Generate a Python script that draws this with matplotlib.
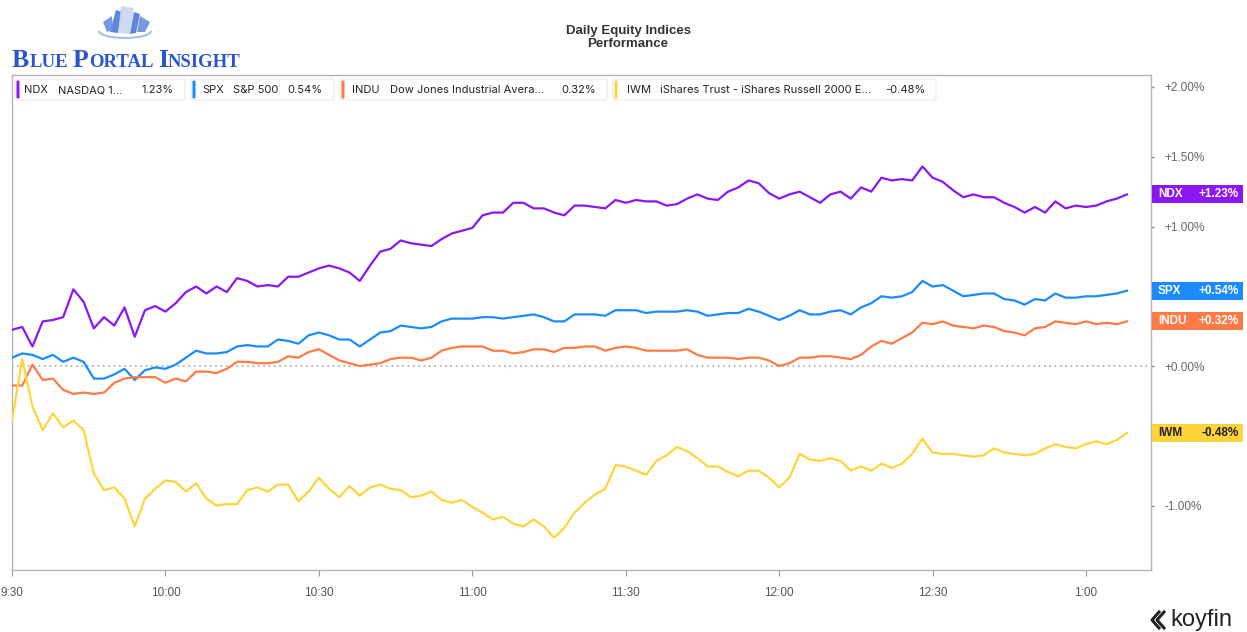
import numpy as np
import matplotlib
matplotlib.use('Agg')
import matplotlib.pyplot as plt
from matplotlib.patches import FancyBboxPatch, Rectangle, Polygon, Arc
from matplotlib.lines import Line2D
from matplotlib.transforms import blended_transform_factory

# minutes after 9:30, one sample every two minutes
minutes = np.arange(0, 220, 2)

ndx = [0.26, 0.28, 0.14, 0.32, 0.33, 0.35, 0.55, 0.46, 0.27, 0.35,
       0.29, 0.42, 0.21, 0.40, 0.43, 0.39, 0.45, 0.53, 0.57, 0.52,
       0.57, 0.53, 0.63, 0.61, 0.57, 0.58, 0.57, 0.64, 0.64, 0.67,
       0.70, 0.72, 0.70, 0.67, 0.61, 0.72, 0.82, 0.84, 0.90, 0.88,
       0.87, 0.86, 0.91, 0.95, 0.97, 0.99, 1.08, 1.10, 1.10, 1.17,
       1.17, 1.13, 1.13, 1.10, 1.08, 1.15, 1.15, 1.14, 1.13, 1.19,
       1.17, 1.19, 1.18, 1.18, 1.15, 1.16, 1.20, 1.23, 1.20, 1.19,
       1.25, 1.28, 1.33, 1.31, 1.24, 1.20, 1.23, 1.25, 1.21, 1.17,
       1.23, 1.25, 1.20, 1.28, 1.25, 1.35, 1.33, 1.34, 1.33, 1.43,
       1.35, 1.32, 1.26, 1.21, 1.23, 1.21, 1.21, 1.17, 1.14, 1.10,
       1.14, 1.10, 1.18, 1.13, 1.15, 1.14, 1.15, 1.18, 1.20, 1.23]

spx = [0.06, 0.09, 0.08, 0.05, 0.08, 0.03, 0.06, 0.03, -0.09, -0.09,
       -0.06, -0.02, -0.10, -0.03, -0.01, -0.02, 0.01, 0.06, 0.11, 0.09,
       0.09, 0.10, 0.14, 0.15, 0.14, 0.14, 0.19, 0.18, 0.16, 0.22,
       0.24, 0.22, 0.19, 0.19, 0.14, 0.19, 0.24, 0.25, 0.29, 0.28,
       0.27, 0.28, 0.32, 0.34, 0.34, 0.34, 0.35, 0.35, 0.34, 0.35,
       0.36, 0.37, 0.35, 0.32, 0.32, 0.37, 0.37, 0.37, 0.36, 0.40,
       0.40, 0.40, 0.38, 0.39, 0.39, 0.39, 0.40, 0.39, 0.36, 0.37,
       0.38, 0.38, 0.41, 0.39, 0.36, 0.33, 0.36, 0.40, 0.37, 0.37,
       0.39, 0.40, 0.37, 0.42, 0.45, 0.50, 0.49, 0.50, 0.53, 0.61,
       0.57, 0.58, 0.54, 0.50, 0.51, 0.52, 0.52, 0.48, 0.47, 0.44,
       0.48, 0.47, 0.52, 0.49, 0.49, 0.50, 0.50, 0.51, 0.52, 0.54]

indu = [-0.14, -0.14, 0.01, -0.10, -0.09, -0.17, -0.20, -0.19, -0.20, -0.19,
        -0.12, -0.09, -0.08, -0.08, -0.08, -0.12, -0.09, -0.11, -0.04, -0.04,
        -0.05, -0.02, 0.03, 0.03, 0.02, 0.02, 0.03, 0.07, 0.06, 0.10,
        0.12, 0.08, 0.04, 0.02, 0.00, 0.01, 0.02, 0.05, 0.06, 0.06,
        0.04, 0.06, 0.11, 0.13, 0.14, 0.14, 0.14, 0.11, 0.11, 0.09,
        0.10, 0.12, 0.12, 0.10, 0.13, 0.13, 0.14, 0.14, 0.11, 0.13,
        0.14, 0.13, 0.11, 0.11, 0.11, 0.11, 0.12, 0.08, 0.06, 0.06,
        0.06, 0.05, 0.06, 0.06, 0.04, 0.00, 0.02, 0.06, 0.06, 0.07,
        0.07, 0.06, 0.05, 0.08, 0.14, 0.18, 0.16, 0.20, 0.24, 0.31,
        0.30, 0.32, 0.29, 0.28, 0.27, 0.29, 0.28, 0.25, 0.24, 0.22,
        0.27, 0.28, 0.32, 0.31, 0.30, 0.32, 0.30, 0.31, 0.30, 0.32]

iwm = [-0.39, 0.05, -0.29, -0.46, -0.34, -0.44, -0.39, -0.46, -0.77, -0.89,
       -0.87, -0.95, -1.15, -0.95, -0.88, -0.82, -0.83, -0.90, -0.84, -0.95,
       -1.00, -0.99, -0.99, -0.89, -0.87, -0.90, -0.85, -0.85, -0.97, -0.90,
       -0.80, -0.88, -0.94, -0.86, -0.93, -0.87, -0.85, -0.88, -0.89, -0.94,
       -0.93, -0.90, -0.96, -0.98, -0.96, -1.01, -1.05, -1.10, -1.08, -1.13,
       -1.15, -1.10, -1.15, -1.23, -1.16, -1.05, -0.98, -0.92, -0.88, -0.71,
       -0.72, -0.75, -0.78, -0.68, -0.64, -0.58, -0.61, -0.66, -0.72, -0.72,
       -0.76, -0.79, -0.75, -0.75, -0.80, -0.87, -0.80, -0.63, -0.67, -0.68,
       -0.66, -0.68, -0.75, -0.72, -0.75, -0.70, -0.73, -0.70, -0.63, -0.52,
       -0.62, -0.63, -0.63, -0.64, -0.65, -0.64, -0.59, -0.62, -0.63, -0.64,
       -0.63, -0.59, -0.56, -0.58, -0.59, -0.56, -0.54, -0.56, -0.53, -0.48]

tickers = ['NDX', 'SPX', 'INDU', 'IWM']
names = ['NASDAQ 1...', 'S&P 500', 'Dow Jones Industrial Avera...',
         'iShares Trust - iShares Russell 2000 E...']
changes = [1.23, 0.54, 0.32, -0.48]
colors = ['#8a17f4', '#1a8cff', '#ff7a45', '#ffd43b']
series = [ndx, spx, indu, iwm]

tick_minutes = [0, 30, 60, 90, 120, 150, 180, 210]
tick_labels = ['9:30', '10:00', '10:30', '11:00', '11:30', '12:00', '12:30', '1:00']
y_ticks = [-1.0, -0.5, 0.0, 0.5, 1.0, 1.5, 2.0]
# the +/-0.50% labels sit under the SPX and IWM tags in the original
y_labels = ['-1.00%', '', '+0.00%', '', '+1.00%', '+1.50%', '+2.00%']

W, H = 1247, 632
fig = plt.figure(figsize=(W / 100, H / 100), dpi=100)
fig.patch.set_facecolor('white')

def fx(px):
    return px / W

def fy(py):
    return 1 - py / H

ax = fig.add_axes([fx(12), fy(570), fx(1151) - fx(12), fy(75) - fy(570)])
ax.set_xlim(0, 222.7)
ax.set_ylim(-1.462, 2.086)

for vals, c in zip(series, colors):
    ax.plot(minutes, vals, color=c, lw=1.6, solid_joinstyle='round', zorder=3)

ax.axhline(0, color='#9a9a9a', lw=1.1, ls=(0, (1, 2.5)), zorder=1)

for side in ['left', 'right', 'top', 'bottom']:
    ax.spines[side].set_color('#b5b5b5')
    ax.spines[side].set_linewidth(1.0)

narrow = ['Liberation Sans Narrow', 'Liberation Sans', 'DejaVu Sans']
ax.set_xticks(tick_minutes)
ax.set_xticklabels(tick_labels, fontsize=8.5, color='#555555', family=narrow)
ax.tick_params(axis='x', length=4, width=0.8, color='#999999', pad=8)

ax.yaxis.tick_right()
ax.set_yticks(y_ticks)
ax.set_yticklabels(y_labels, fontsize=8.5, color='#666666', family='Liberation Sans')
ax.tick_params(axis='y', length=2, width=1.0, color='#888888', pad=8)

# value tags on the right edge
blend = blended_transform_factory(fig.transFigure, ax.transData)
tag_h = 18 / 139.5
for tk, ch, c in zip(tickers, changes, colors):
    fig.add_artist(Rectangle((fx(1152), ch - tag_h / 2), fx(1243) - fx(1152), tag_h,
                             transform=blend, facecolor=c, edgecolor='none', zorder=5))
    tc = '#222222' if tk == 'IWM' else 'white'
    fig.text(fx(1158), ch, tk, transform=blend, ha='left', va='center', fontsize=8.5,
             fontweight='bold', color=tc, family='Liberation Sans', zorder=6)
    fig.text(fx(1239), ch, f'{ch:+.2f}%', transform=blend, ha='right', va='center',
             fontsize=8.5, fontweight='bold', color=tc, family='Liberation Sans', zorder=6)

# legend chips along the top
chips = [(15, 185, 24, 58), (191, 334, 202, 233),
         (340, 607, 352, 390), (613, 936, 627, 660)]
for (x0, x1, xt, xn), tk, nm, ch, c in zip(chips, tickers, names, changes, colors):
    fig.add_artist(FancyBboxPatch((fx(x0), fy(100)), fx(x1) - fx(x0), fy(79) - fy(100),
                                  boxstyle='round,pad=0,rounding_size=0.003',
                                  facecolor='white', edgecolor='#e8e8e8', lw=0.8, zorder=4))
    fig.add_artist(FancyBboxPatch((fx(x0 + 1.5), fy(98.5)), fx(3) - fx(0), fy(80.5) - fy(98.5),
                                  boxstyle='round,pad=0,rounding_size=0.0012',
                                  facecolor=c, edgecolor='none', zorder=5))
    fig.text(fx(xt), fy(90), tk, ha='left', va='center', fontsize=8.0,
             color='#222222', family='Inter', zorder=6)
    fig.text(fx(xn), fy(90), nm, ha='left', va='center', fontsize=8.0,
             color='#222222', family='Inter', zorder=6)
    fig.text(fx(x1 - 11), fy(90), f'{ch:.2f}%', ha='right', va='center', fontsize=8.0,
             color='#222222', family='Inter', zorder=6)

# title
fig.text(fx(628), fy(31), 'Daily Equity Indices', ha='center', va='center',
         fontsize=9.5, color='#333333', family='Liberation Sans', fontweight='bold')
fig.text(fx(628), fy(44), 'Performance', ha='center', va='center',
         fontsize=9.5, color='#333333', family='Liberation Sans', fontweight='bold')

# Blue Portal Insight logo
logo_blue = '#2b55d0'
r = fig.canvas.get_renderer()
x = fx(12)
for word in ['Blue', 'Portal', 'Insight']:
    t = fig.text(x, fy(67), word[0], fontsize=18.5, color=logo_blue, family='Liberation Serif',
                 fontweight='bold', va='baseline', ha='left')
    x += t.get_window_extent(renderer=r).width / W
    t = fig.text(x, fy(67), word[1:].upper(), fontsize=13.5, color=logo_blue,
                 family='Liberation Serif', fontweight='bold', va='baseline', ha='left')
    x += t.get_window_extent(renderer=r).width / W + fx(5)

light = '#a8bde8'
fig.add_artist(Arc((fx(125), fy(31)), fx(52) - fx(0), fy(0) - fy(14), theta1=180, theta2=360,
                   color=light, lw=1.5, transform=fig.transFigure))
for pts, col in [([(110, 32), (116, 10), (122, 12), (118, 33)], '#4f78d8'),
                 ([(118, 33), (121, 6), (134, 8), (130, 34)], '#c9d6f0'),
                 ([(130, 34), (134, 12), (140, 14), (136, 33)], '#4f78d8'),
                 ([(103, 22), (112, 16), (113, 30), (107, 32)], '#6a8de0'),
                 ([(137, 32), (140, 16), (150, 22), (145, 32)], '#6a8de0')]:
    fig.add_artist(Polygon([(fx(a), fy(b)) for a, b in pts], closed=True, facecolor=col,
                           edgecolor='none', transform=fig.transFigure, alpha=0.9))

# koyfin mark
for dx in [0, 5]:
    fig.add_artist(Line2D([fx(1159 + dx), fx(1152 + dx), fx(1159 + dx)],
                          [fy(612), fy(620), fy(628)], color='#222222', lw=2.2,
                          transform=fig.transFigure))
fig.text(fx(1170), fy(620), 'koyfin', ha='left', va='center', fontsize=17,
         color='#222222', family='Liberation Sans')

fig.savefig('out.png', dpi=100)
